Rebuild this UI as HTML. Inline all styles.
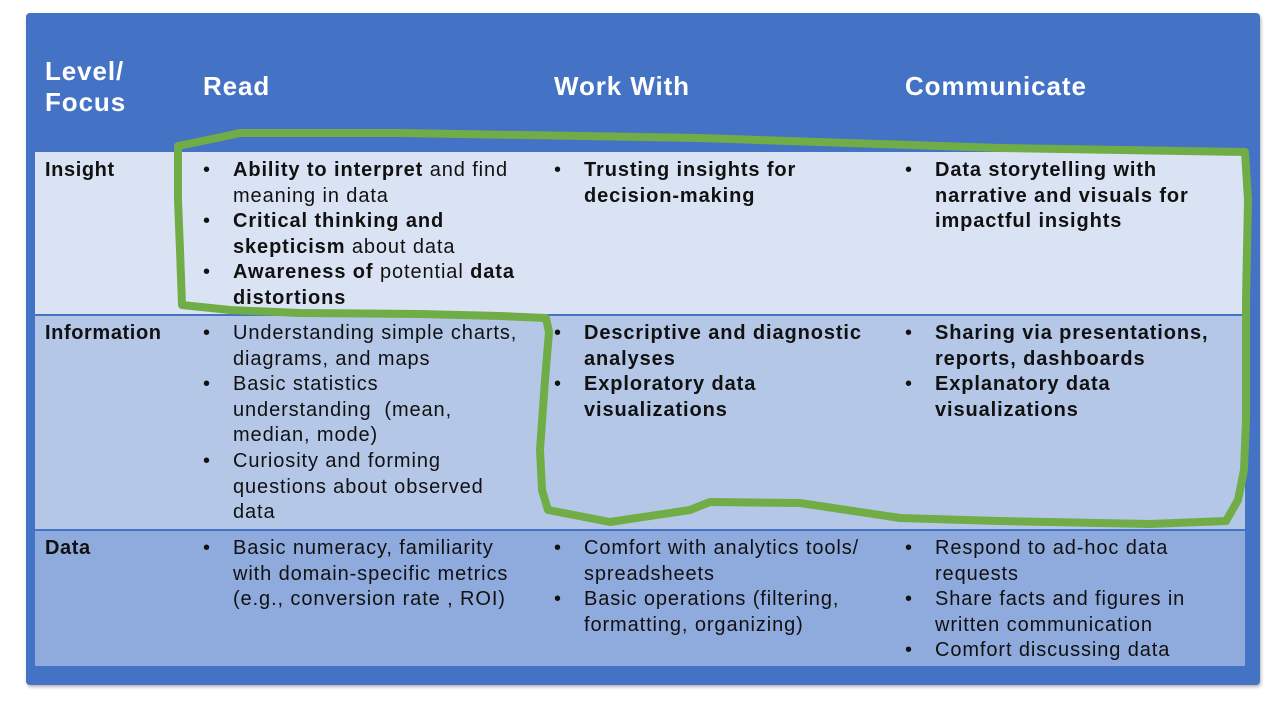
<!DOCTYPE html>
<html><head><meta charset="utf-8"><style>
body{margin:0;width:1280px;height:720px;background:#fff;position:relative;overflow:hidden;font-family:"Liberation Sans",sans-serif;}
.abs{position:absolute}
.h{color:#fff;font-weight:bold;font-size:26px;line-height:31px;letter-spacing:0.9px}
.t{font-size:20px;line-height:25.6px;color:#111;white-space:nowrap;letter-spacing:0.9px}
ul{margin:0;padding:0;list-style:none}
li{position:relative;padding-left:30px}
li:before{content:"•";position:absolute;left:0}
b{font-weight:bold}
.lab{font-weight:bold;font-size:20px;color:#111;letter-spacing:0.6px}
</style></head><body>
<div class="abs" style="left:26px;top:13px;width:1234px;height:672px;background:#4472C4;border-radius:4px;box-shadow:1px 2px 3px rgba(0,0,0,.3)"></div>
<div class="abs" style="left:35px;top:152px;width:1210px;height:162px;background:#DAE3F3"></div>
<div class="abs" style="left:35px;top:316px;width:1210px;height:213px;background:#B4C7E7"></div>
<div class="abs" style="left:35px;top:531px;width:1210px;height:135px;background:#8FAADC"></div>

<div class="abs h" style="left:45px;top:56px">Level/<br>Focus</div>
<div class="abs h" style="left:203px;top:71px">Read</div>
<div class="abs h" style="left:554px;top:71px">Work With</div>
<div class="abs h" style="left:905px;top:71px">Communicate</div>

<div class="abs lab" style="left:45px;top:159px">Insight</div>
<div class="abs lab" style="left:45px;top:322px">Information</div>
<div class="abs lab" style="left:45px;top:537px">Data</div>

<div class="abs t" style="left:203px;top:158px"><ul>
<li><b>Ability to interpret</b> and find<br>meaning in data</li>
<li><b>Critical thinking and<br>skepticism</b> about data</li>
<li><b>Awareness of</b> potential <b>data<br>distortions</b></li></ul></div>
<div class="abs t" style="left:554px;top:158px"><ul>
<li><b>Trusting insights for<br>decision-making</b></li></ul></div>
<div class="abs t" style="left:905px;top:158px"><ul>
<li><b>Data storytelling with<br>narrative and visuals for<br>impactful insights</b></li></ul></div>

<div class="abs t" style="left:203px;top:321px"><ul>
<li>Understanding simple charts,<br>diagrams, and maps</li>
<li>Basic statistics<br>understanding &nbsp;(mean,<br>median, mode)</li>
<li>Curiosity and forming<br>questions about observed<br>data</li></ul></div>
<div class="abs t" style="left:554px;top:321px"><ul>
<li><b>Descriptive and diagnostic<br>analyses</b></li>
<li><b>Exploratory data<br>visualizations</b></li></ul></div>
<div class="abs t" style="left:905px;top:321px"><ul>
<li><b>Sharing via presentations,<br>reports, dashboards</b></li>
<li><b>Explanatory data<br>visualizations</b></li></ul></div>

<div class="abs t" style="left:203px;top:536px"><ul>
<li>Basic numeracy, familiarity<br>with domain-specific metrics<br>(e.g., conversion rate , ROI)</li></ul></div>
<div class="abs t" style="left:554px;top:536px"><ul>
<li>Comfort with analytics tools/<br>spreadsheets</li>
<li>Basic operations (filtering,<br>formatting, organizing)</li></ul></div>
<div class="abs t" style="left:905px;top:536px"><ul>
<li>Respond to ad-hoc data<br>requests</li>
<li>Share facts and figures in<br>written communication</li>
<li>Comfort discussing data</li></ul></div>

<svg class="abs" style="left:0;top:0" width="1280" height="720">
<path d="M178,146 L212,139 L240,133 L400,133 L700,138 L1000,148 L1245,152 L1248,200 L1246,300 L1246,420 L1244,470 L1238,500 L1226,521 L1150,524 L1000,521 L900,518 L800,503 L710,502 L690,510 L610,522 L548,510 L542,490 L540,450 L545,380 L549,332 L546,318 L500,316 L420,314 L300,313 L230,310 L182,305 L180,250 L178,200 Z" fill="none" stroke="#70AD47" stroke-width="8" stroke-linejoin="round"/>
</svg>
</body></html>
